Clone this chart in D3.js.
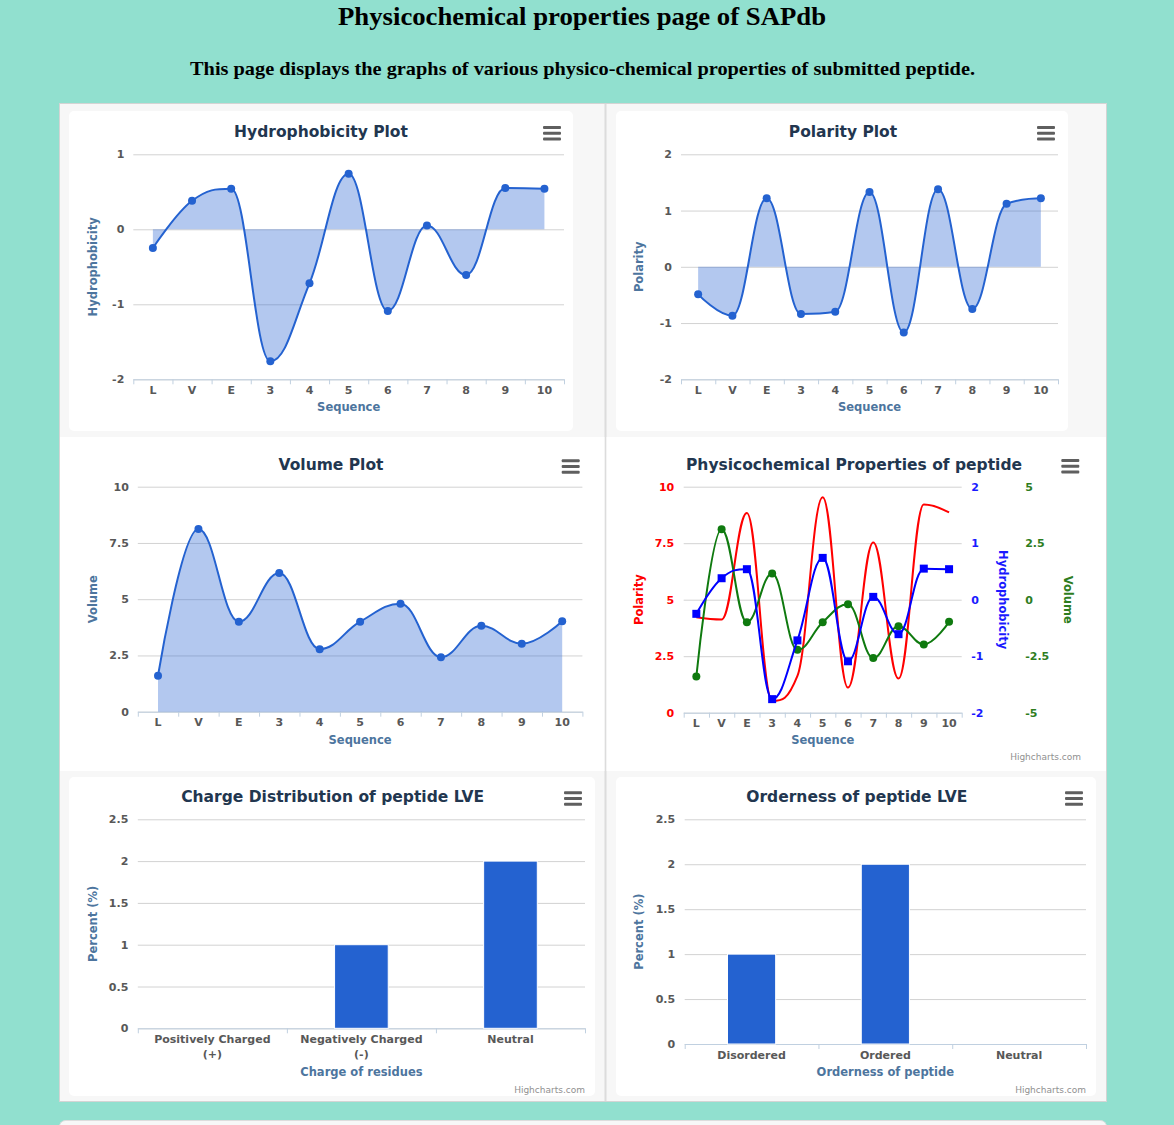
<!DOCTYPE html>
<html><head><meta charset="utf-8">
<script src="https://cdn.jsdelivr.net/npm/d3@7"></script>
<style>
html,body{margin:0;padding:0;background:#91e0cf;}
svg{display:block;}
</style></head><body>
<svg id="page" width="1174" height="1125"></svg>
<script>
// ---------- data ----------
const sequence = ['L','V','E','3','4','5','6','7','8','9','10'];
const hydrophobicity = [-0.25, 0.38, 0.54, -1.76, -0.72, 0.74, -1.09, 0.05, -0.61, 0.55, 0.54];
const polarity = [-0.49, -0.87, 1.22, -0.84, -0.80, 1.33, -1.17, 1.38, -0.75, 1.12, 1.22];
const volume = [1.6, 8.12, 4.0, 6.16, 2.78, 4.0, 4.8, 2.42, 3.82, 3.02, 4.02];
const comboPolarity = [4.22, 4.12, 8.84, 0.52, 1.63, 9.53, 1.11, 7.53, 1.51, 9.21, 8.86];
const comboHydrophobicity = [-0.25, 0.38, 0.54, -1.76, -0.72, 0.74, -1.09, 0.05, -0.61, 0.55, 0.54];
const comboVolume = [-3.4, 3.12, -1.0, 1.16, -2.22, -1.0, -0.2, -2.58, -1.18, -1.98, -0.98];
const chargeCategories = ['Positively Charged\n(+)', 'Negatively Charged\n(-)', 'Neutral'];
const chargeValues = [0, 1, 2];
const orderCategories = ['Disordered', 'Ordered', 'Neutral'];
const orderValues = [1, 2, 0];
const hydroTicks = [-2, -1, 0, 1];
const polarityTicks = [-2, -1, 0, 1, 2];
const volumeTicks = [0, 2.5, 5, 7.5, 10];
const comboPolarityTicks = [0, 2.5, 5, 7.5, 10];
const comboHydroTicks = [-2, -1, 0, 1, 2];
const comboVolumeTicks = [-5, -2.5, 0, 2.5, 5];
const percentTicks = [0, 0.5, 1, 1.5, 2, 2.5];

// ---------- helpers ----------
const svg = d3.select('#page');
const FONT = '"DejaVu Sans", Verdana, sans-serif';
const BLUE = '#2462d0';
const TITLE_C = '#22364f';
const AXIS_T = '#4d759e';
const LABEL_C = '#585858';

function rect(x, y, w, h, fill, stroke, rx) {
  svg.append('rect').attr('x', x).attr('y', y).attr('width', w).attr('height', h)
    .attr('rx', rx || 0).attr('fill', fill).attr('stroke', stroke || 'none');
}

function hcSpline(pts) {
  const n = pts.length, L = [], R = [];
  for (let i = 1; i < n - 1; i++) {
    const [lx, ly] = pts[i - 1], [x, y] = pts[i], [nx, ny] = pts[i + 1];
    let lcx = (1.5 * x + lx) / 2.5, lcy = (1.5 * y + ly) / 2.5;
    let rcx = (1.5 * x + nx) / 2.5, rcy = (1.5 * y + ny) / 2.5;
    const corr = ((rcy - lcy) * (rcx - x)) / (rcx - lcx) + y - rcy;
    lcy += corr; rcy += corr;
    if (lcy > ly && lcy > y) { lcy = Math.max(ly, y); rcy = 2 * y - lcy; }
    else if (lcy < ly && lcy < y) { lcy = Math.min(ly, y); rcy = 2 * y - lcy; }
    if (rcy > ny && rcy > y) { rcy = Math.max(ny, y); lcy = 2 * y - rcy; }
    else if (rcy < ny && rcy < y) { rcy = Math.min(ny, y); lcy = 2 * y - rcy; }
    L[i] = [lcx, lcy]; R[i] = [rcx, rcy];
  }
  let d = `M${pts[0][0]},${pts[0][1]}`;
  for (let i = 1; i < n; i++) {
    const c1 = R[i - 1] || pts[i - 1], c2 = L[i] || pts[i];
    d += `C${c1[0]},${c1[1]},${c2[0]},${c2[1]},${pts[i][0]},${pts[i][1]}`;
  }
  return d;
}

function frame(c) {
  svg.append('text').attr('x', c.titleX).attr('y', c.titleY).attr('dy', '0.35em')
    .attr('text-anchor', 'middle').attr('fill', TITLE_C)
    .style('font', `bold 15.5px ${FONT}`).text(c.title);
  const m = svg.append('g').attr('transform', `translate(${c.menu[0]},${c.menu[1]})`);
  [-5.8, 0, 5.8].forEach(dy => m.append('rect').attr('x', -9).attr('y', dy - 1.5)
    .attr('width', 18).attr('height', 3).attr('rx', 1).attr('fill', '#5f5f5f'));
  if (c.credit) {
    svg.append('text').attr('x', c.credit[0]).attr('y', c.credit[1]).attr('dy', '0.35em')
      .attr('text-anchor', 'end').attr('fill', '#909090')
      .style('font', `9px ${FONT}`).text('Highcharts.com');
  }
}

function axisTitle(text, x, y, rot, color) {
  svg.append('text').attr('transform', `translate(${x},${y}) rotate(${rot})`)
    .attr('dy', '0.35em').attr('text-anchor', 'middle').attr('fill', color || AXIS_T)
    .style('font', `bold 11.5px ${FONT}`).text(text);
}

function grid(y, ticks, left, right) {
  svg.append('g').attr('transform', `translate(${left},0)`)
    .call(d3.axisLeft(y).tickValues(ticks).tickSize(-(right - left)).tickFormat(''))
    .call(s => { s.select('.domain').remove(); s.selectAll('line').attr('stroke', '#d2d2d2'); });
}

function yLabels(y, ticks, x, side, color, pad) {
  const ax = side === 'left' ? d3.axisLeft(y) : d3.axisRight(y);
  svg.append('g').attr('transform', `translate(${x},0)`)
    .call(ax.tickValues(ticks).tickSize(0).tickPadding(pad).tickFormat(d => String(d)))
    .call(s => {
      s.select('.domain').remove();
      s.selectAll('text').attr('fill', color || LABEL_C).style('font', `bold 11px ${FONT}`);
    });
}

function xAxis(cats, left, right, bottom) {
  const x = d3.scaleBand().domain(cats).range([left, right]);
  const idx = d3.scaleLinear().domain([0, cats.length]).range([left, right]);
  svg.append('g').attr('transform', `translate(0,${bottom})`)
    .call(d3.axisBottom(idx).tickValues(d3.range(cats.length + 1)).tickSize(5).tickSizeOuter(0).tickFormat(''))
    .call(s => { s.select('.domain').attr('stroke', '#C0D0E0'); s.selectAll('.tick line').attr('stroke', '#C0D0E0'); });
  svg.append('g').attr('transform', `translate(0,${bottom})`)
    .call(d3.axisBottom(x).tickSize(0).tickPadding(7))
    .call(s => {
      s.select('.domain').remove();
      s.selectAll('text').attr('fill', LABEL_C).style('font', `bold 11px ${FONT}`)
        .each(function (d) {
          const lines = String(d).split('\n');
          if (lines.length > 1) {
            const t = d3.select(this); t.text(null);
            lines.forEach((l, i) => t.append('tspan').attr('x', 0).attr('dy', i ? '15px' : '0.71em').text(l));
          }
        });
    });
  return x;
}

function series(x, y, values, color, o) {
  const cats = x.domain();
  const pts = values.map((v, i) => [x(cats[i]) + x.bandwidth() / 2, y(v)]);
  const d = hcSpline(pts);
  const g = svg.append('g');
  if (o.area) {
    const y0 = y(o.threshold);
    g.append('path').attr('d', d + `L${pts[pts.length - 1][0]},${y0}L${pts[0][0]},${y0}Z`)
      .attr('fill', color).attr('fill-opacity', 0.35);
  }
  g.append('path').attr('d', d).attr('fill', 'none').attr('stroke', color).attr('stroke-width', 2);
  if (o.marker === 'circle') {
    g.selectAll('circle').data(pts).join('circle').attr('cx', p => p[0]).attr('cy', p => p[1]).attr('r', 4).attr('fill', color);
  } else if (o.marker === 'square') {
    g.selectAll('rect').data(pts).join('rect').attr('x', p => p[0] - 4).attr('y', p => p[1] - 4)
      .attr('width', 8).attr('height', 8).attr('fill', color);
  }
}

function lineChart(c) {
  const y = d3.scaleLinear().domain(c.domain).range([c.bottom, c.top]);
  grid(y, c.ticks, c.left, c.right);
  yLabels(y, c.ticks, c.left, 'left', LABEL_C, 9);
  const x = xAxis(sequence, c.left, c.right, c.bottom);
  series(x, y, c.values, BLUE, { area: true, threshold: c.threshold, marker: 'circle' });
  axisTitle(c.yTitle, c.yTitleX, (c.top + c.bottom) / 2, -90);
  axisTitle('Sequence', (c.left + c.right) / 2, c.xTitleY, 0);
  frame(c);
}

function barChart(c) {
  const y = d3.scaleLinear().domain([0, 2.5]).range([c.bottom, c.top]);
  grid(y, percentTicks, c.left, c.right);
  yLabels(y, percentTicks, c.left, 'left', LABEL_C, 9.5);
  const x = xAxis(c.cats, c.left, c.right, c.bottom);
  const bw = x.bandwidth() * 0.36;
  svg.append('g').selectAll('rect').data(c.values).join('rect')
    .attr('x', (v, i) => x(c.cats[i]) + x.bandwidth() / 2 - bw / 2)
    .attr('y', v => y(v)).attr('width', bw).attr('height', v => y(0) - y(v))
    .attr('fill', BLUE).attr('stroke', '#ffffff').attr('stroke-width', 1)
    .attr('display', v => v > 0 ? null : 'none');
  axisTitle('Percent (%)', c.yTitleX, (c.top + c.bottom) / 2, -90);
  axisTitle(c.xTitle, (c.left + c.right) / 2, c.xTitleY, 0);
  frame(c);
}

// ---------- page background ----------
rect(0, 0, 1174, 1125, '#91e0cf');
rect(59.5, 103.5, 1047, 998, '#f7f7f7', '#d4d4d4');
svg.append('line').attr('x1', 605.5).attr('x2', 605.5).attr('y1', 104).attr('y2', 1101)
  .attr('stroke', '#dcdcdc').attr('stroke-width', 2);
rect(69, 111, 504, 320, '#ffffff', null, 5);
rect(616, 111, 452, 320, '#ffffff', null, 5);
rect(60, 437, 544.5, 334, '#ffffff');
rect(606.5, 437, 499.5, 334, '#ffffff');
rect(69, 777, 526, 319, '#ffffff', null, 5);
rect(616, 777, 480, 319, '#ffffff', null, 5);
rect(59.5, 1120.5, 1047, 30, '#f7f7f7', '#dddddd', 6);

svg.append('text').attr('x', 582).attr('y', 25).attr('text-anchor', 'middle')
  .attr('textLength', 488).attr('lengthAdjust', 'spacingAndGlyphs')
  .style('font', 'bold 26px "Liberation Serif", "DejaVu Serif", serif').attr('fill', '#000')
  .text('Physicochemical properties page of SAPdb');
svg.append('text').attr('x', 582.5).attr('y', 75).attr('text-anchor', 'middle')
  .attr('textLength', 785).attr('lengthAdjust', 'spacingAndGlyphs')
  .style('font', 'bold 19px "Liberation Serif", "DejaVu Serif", serif').attr('fill', '#000')
  .text('This page displays the graphs of various physico-chemical properties of submitted peptide.');

// ---------- charts ----------
lineChart({ title: 'Hydrophobicity Plot', titleX: 321, titleY: 132, menu: [552, 133.3],
  left: 133.3, right: 564, top: 154.3, bottom: 379.3, domain: [-2, 1], ticks: hydroTicks,
  values: hydrophobicity, threshold: 0, yTitle: 'Hydrophobicity', yTitleX: 93, xTitleY: 407 });

lineChart({ title: 'Polarity Plot', titleX: 843, titleY: 132, menu: [1046, 133.3],
  left: 681, right: 1058, top: 154.3, bottom: 379.3, domain: [-2, 2], ticks: polarityTicks,
  values: polarity, threshold: 0, yTitle: 'Polarity', yTitleX: 639, xTitleY: 407 });

lineChart({ title: 'Volume Plot', titleX: 331, titleY: 465, menu: [570.7, 466.5],
  left: 137.8, right: 582.4, top: 486.7, bottom: 711.7, domain: [0, 10], ticks: volumeTicks,
  values: volume, threshold: 0, yTitle: 'Volume', yTitleX: 93, xTitleY: 740 });

// combined chart
(function () {
  const left = 683.7, right = 961.7, top = 486.7, bottom = 712.7;
  const yP = d3.scaleLinear().domain([0, 10]).range([bottom, top]);
  const yH = d3.scaleLinear().domain([-2, 2]).range([bottom, top]);
  const yV = d3.scaleLinear().domain([-5, 5]).range([bottom, top]);
  grid(yP, comboPolarityTicks, left, right);
  yLabels(yP, comboPolarityTicks, left, 'left', '#ff0000', 9.5);
  yLabels(yH, comboHydroTicks, right, 'right', '#1a1aff', 9.5);
  yLabels(yV, comboVolumeTicks, right + 54, 'right', '#2e7d1e', 9.5);
  const x = xAxis(sequence, left, right, bottom);
  series(x, yP, comboPolarity, '#ff0000', { marker: 'none' });
  series(x, yV, comboVolume, '#0f7a0f', { marker: 'circle' });
  series(x, yH, comboHydrophobicity, '#0000ff', { marker: 'square' });
  axisTitle('Polarity', 639.3, (top + bottom) / 2, -90, '#ff0000');
  axisTitle('Hydrophobicity', 1002.7, (top + bottom) / 2, 90, '#1a1aff');
  axisTitle('Volume', 1067.7, (top + bottom) / 2, 90, '#2e7d1e');
  axisTitle('Sequence', 822.7, 740, 0);
  frame({ title: 'Physicochemical Properties of peptide', titleX: 854, titleY: 465,
    menu: [1070.3, 466.3], credit: [1081, 757] });
})();

barChart({ title: 'Charge Distribution of peptide LVE', titleX: 332.6, titleY: 797, menu: [573, 798.5],
  credit: [585, 1089.5], left: 137.8, right: 585, top: 819.3, bottom: 1028.3,
  cats: chargeCategories, values: chargeValues, yTitleX: 92.7, xTitle: 'Charge of residues', xTitleY: 1072 });

barChart({ title: 'Orderness of peptide LVE', titleX: 856.8, titleY: 797, menu: [1074, 798.5],
  credit: [1086, 1089.5], left: 684.7, right: 1086, top: 819.3, bottom: 1044,
  cats: orderCategories, values: orderValues, yTitleX: 639, xTitle: 'Orderness of peptide', xTitleY: 1072 });
</script>
</body></html>
